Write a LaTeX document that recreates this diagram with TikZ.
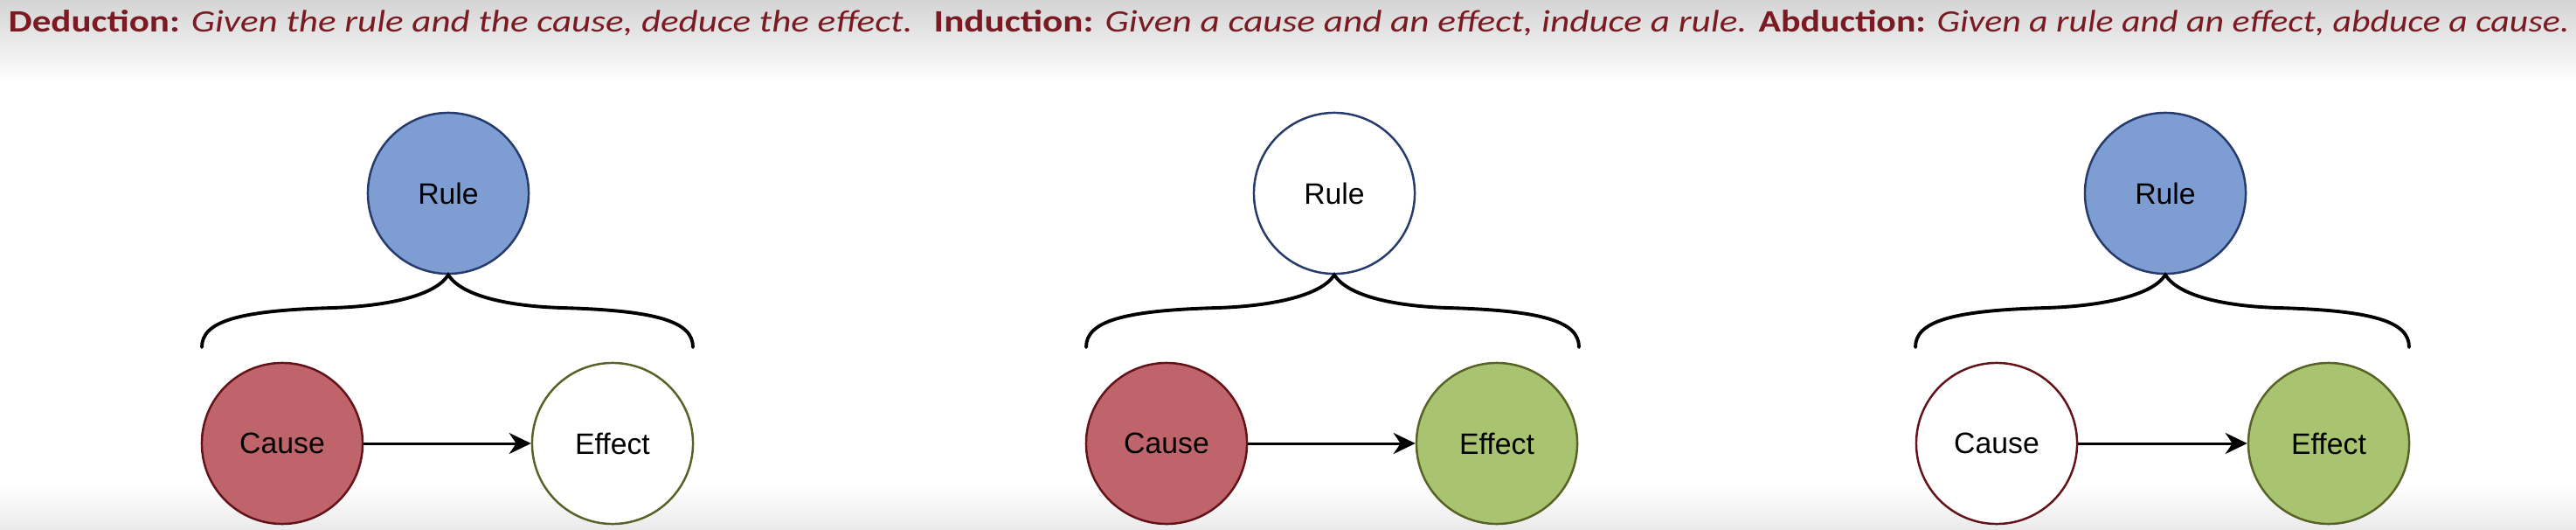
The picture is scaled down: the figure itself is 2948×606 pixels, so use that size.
\documentclass[tikz,border=0pt]{standalone}
\usepackage{fontspec}
\setmainfont{Liberation Sans}
\newfontfamily\hand{Carlito}
\usetikzlibrary{arrows.meta,calc}
\definecolor{hdr}{RGB}{122,26,34}
\definecolor{topgrey}{RGB}{212,212,212}
\definecolor{botgrey}{RGB}{234,234,234}
\definecolor{rulefillc}{RGB}{126,157,211}
\definecolor{rulelinec}{RGB}{38,58,108}
\definecolor{causefillc}{RGB}{190,100,106}
\definecolor{causelinec}{RGB}{98,18,24}
\definecolor{effectfillc}{RGB}{168,196,112}
\definecolor{effectlinec}{RGB}{88,98,38}
\tikzset{
  circ/.style={circle, minimum size=1.84cm, inner sep=0pt, line width=0.7pt,
    font=\fontsize{9.6}{11}\selectfont},
  ruleF/.style={circ, draw=rulelinec, fill=rulefillc},
  ruleE/.style={circ, draw=rulelinec, fill=white},
  causeF/.style={circ, draw=causelinec, fill=causefillc},
  causeE/.style={circ, draw=causelinec, fill=white},
  effF/.style={circ, draw=effectlinec, fill=effectfillc},
  effE/.style={circ, draw=effectlinec, fill=white},
  hdrtext/.style={anchor=base west, inner sep=0pt, text=hdr},
  bracestyle/.style={line width=1.1pt, line cap=round},
  arr/.style={line width=0.85pt, -{Stealth[length=2.5mm,width=2.4mm,inset=0.8mm]}}
}
\newcommand{\mybrace}[3]{%
  \draw[bracestyle] (#2) .. controls +(0,-29) and +(-110,3) .. ($(#2)+(150,-45)$)
    .. controls +(62,-2) and +(-15,24) .. (#1.south)
    .. controls +(15,24) and +(-62,-2) .. ($(#3)+(-150,-45)$)
    .. controls +(110,3) and +(0,-29) .. (#3);}
\begin{document}
\begin{tikzpicture}[x=0.01cm,y=-0.01cm]
\useasboundingbox (0,0) rectangle (2948,606);
\fill[white] (0,0) rectangle (2948,606);
\shade[top color=topgrey,bottom color=white] (0,0) rectangle (2948,95);
\shade[top color=white,bottom color=botgrey] (0,555) rectangle (2948,606);

% headers
\node[hdrtext] (h1) at (9,37) {\resizebox{10.34cm}{0.25cm}{\hand\textbf{Deduction:} \textit{Given the rule and the cause, deduce the effect.}}};
\node[hdrtext] (h2) at (1068,37) {\resizebox{9.30cm}{0.25cm}{\hand\textbf{Induction:} \textit{Given a cause and an effect, induce a rule.}}};
\node[hdrtext] (h3) at (2012,37) {\resizebox{9.27cm}{0.25cm}{\hand\textbf{Abduction:} \textit{Given a rule and an effect, abduce a cause.}}};

% Deduction
\node[ruleF] (r1) at (513,221) {Rule};
\node[causeF] (c1) at (323,507) {Cause};
\node[effE] (e1) at (701,507) {Effect};
\coordinate (l1) at (231,397);
\coordinate (m1) at (793,397);
\mybrace{r1}{l1}{m1}
\draw[arr] (c1) -- (e1);

% Induction
\node[ruleE] (r2) at (1527,221) {Rule};
\node[causeF] (c2) at (1335,507) {Cause};
\node[effF] (e2) at (1713,507) {Effect};
\coordinate (l2) at (1243,397);
\coordinate (m2) at (1807,397);
\mybrace{r2}{l2}{m2}
\draw[arr] (c2) -- (e2);

% Abduction
\node[ruleF] (r3) at (2478,221) {Rule};
\node[causeE] (c3) at (2285,507) {Cause};
\node[effF] (e3) at (2665,507) {Effect};
\coordinate (l3) at (2192,397);
\coordinate (m3) at (2757,397);
\mybrace{r3}{l3}{m3}
\draw[arr] (c3) -- (e3);
\end{tikzpicture}
\end{document}
